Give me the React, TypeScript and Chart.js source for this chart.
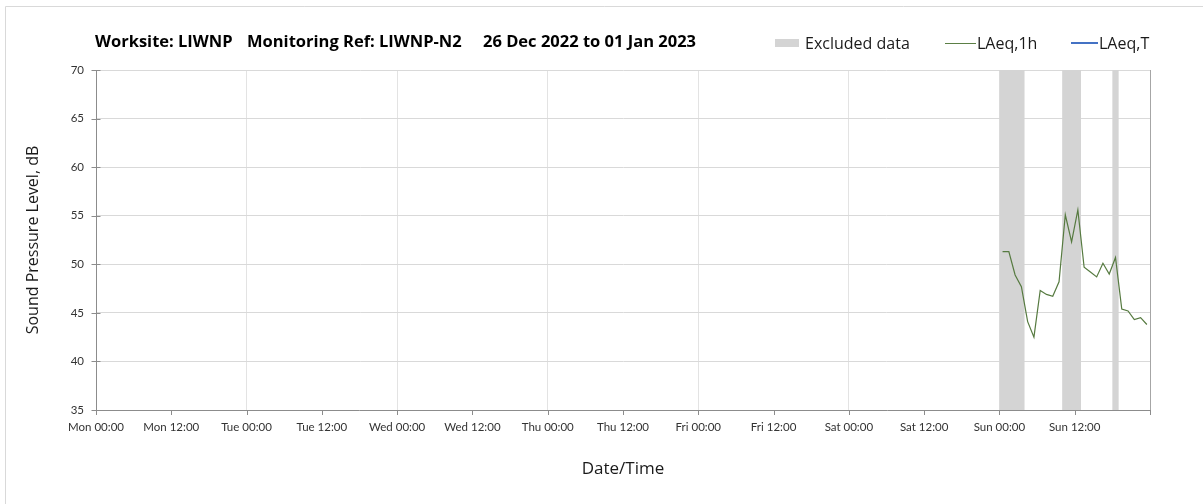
import React, { useEffect, useRef } from "react";
import { Chart, registerables } from "chart.js";

Chart.register(...registerables);

// hours since Mon 26 Dec 2022 00:00
const tickLabels = [
  "Mon 00:00", "Mon 12:00", "Tue 00:00", "Tue 12:00", "Wed 00:00", "Wed 12:00",
  "Thu 00:00", "Thu 12:00", "Fri 00:00", "Fri 12:00", "Sat 00:00", "Sat 12:00",
  "Sun 00:00", "Sun 12:00", "",
];

const laeq1hHours = [
  144.5, 145.5, 146.5, 147.5, 148.5, 149.5, 150.5, 151.5, 152.5, 153.5, 154.5, 155.5,
  156.5, 157.5, 158.5, 159.5, 160.5, 161.5, 162.5, 163.5, 164.5, 165.5, 166.5, 167.5,
];
const laeq1hValues = [
  51.3, 51.3, 48.9, 47.7, 44.1, 42.5, 47.3, 46.9, 46.7, 48.2, 55.1, 52.3,
  55.6, 49.7, 49.2, 48.7, 50.1, 49.0, 50.7, 45.4, 45.2, 44.3, 44.5, 43.8,
];
const laeqTValues: number[] = [];

const excludedStart = [144, 154, 162];
const excludedEnd = [148, 157, 163];

const titleParts = [
  "Worksite: LIWNP",
  "Monitoring Ref: LIWNP-N2",
  "26 Dec 2022 to 01 Jan 2023",
];

const TICK_FONT = "Lato, 'Open Sans', sans-serif";
const FONT = "'Open Sans', Lato, sans-serif";

const decor = {
  id: "decor",
  beforeDatasetsDraw(chart: any) {
    const { ctx, chartArea, scales } = chart;
    const x = scales.x;
    ctx.save();
    ctx.fillStyle = "#d4d4d4";
    for (let i = 0; i < excludedStart.length; i++) {
      const a = x.getPixelForValue(excludedStart[i]);
      const b = x.getPixelForValue(excludedEnd[i]);
      ctx.fillRect(a, chartArea.top, b - a, chartArea.bottom - chartArea.top);
    }
    ctx.restore();
  },
  afterDraw(chart: any) {
    const { ctx, chartArea, scales } = chart;
    const x = scales.x;
    const y = scales.y;
    ctx.save();
    // outer frame
    ctx.strokeStyle = "#d9d9d9";
    ctx.lineWidth = 1;
    ctx.beginPath();
    ctx.moveTo(5.5, 504);
    ctx.lineTo(5.5, 6.5);
    ctx.lineTo(1203, 6.5);
    ctx.stroke();

    // right border of plot
    ctx.strokeStyle = "#a6a6a6";
    ctx.beginPath();
    const rx = Math.round(chartArea.right) + 0.5;
    ctx.moveTo(rx, chartArea.top);
    ctx.lineTo(rx, chartArea.bottom + 5);
    ctx.stroke();

    // y tick marks (crossing)
    ctx.strokeStyle = "#8c8c8c";
    const lx = Math.round(chartArea.left) + 0.5;
    y.ticks.forEach((t: any) => {
      const py = Math.round(y.getPixelForValue(t.value)) + 0.5;
      ctx.beginPath();
      ctx.moveTo(lx - 5, py);
      ctx.lineTo(lx + 4, py);
      ctx.stroke();
    });
    // x tick marks
    x.ticks.forEach((t: any) => {
      const px = Math.round(x.getPixelForValue(t.value)) + 0.5;
      ctx.beginPath();
      ctx.moveTo(px, chartArea.bottom);
      ctx.lineTo(px, chartArea.bottom + 5);
      ctx.stroke();
    });

    // title
    ctx.fillStyle = "#000";
    ctx.font = `bold 16.5px ${FONT}`;
    ctx.textBaseline = "alphabetic";
    ctx.textAlign = "left";
    const tx = [95, 247, 483];
    titleParts.forEach((s, i) => ctx.fillText(s, tx[i], 47));

    // legend
    ctx.font = `16px ${FONT}`;
    ctx.fillStyle = "#d4d4d4";
    ctx.fillRect(775, 39, 24, 8);
    ctx.fillStyle = "#1a1a1a";
    ctx.fillText("Excluded data", 805, 49);
    ctx.strokeStyle = "#5b7f45";
    ctx.lineWidth = 1;
    ctx.beginPath();
    ctx.moveTo(945, 43.5);
    ctx.lineTo(976, 43.5);
    ctx.stroke();
    ctx.fillText("LAeq,1h", 977, 49);
    ctx.strokeStyle = "#4472c4";
    ctx.lineWidth = 2;
    ctx.beginPath();
    ctx.moveTo(1071, 43);
    ctx.lineTo(1098, 43);
    ctx.stroke();
    ctx.fillText("LAeq,T", 1099, 49);
    ctx.restore();
  },
};

export default function App() {
  const ref = useRef<HTMLCanvasElement | null>(null);
  useEffect(() => {
    if (!ref.current) return;
    const chart = new Chart(ref.current, {
      type: "line",
      data: {
        datasets: [
          {
            label: "LAeq,1h",
            data: laeq1hHours.map((h, i) => ({ x: h, y: laeq1hValues[i] })),
            borderColor: "#567a40",
            borderWidth: 1.2,
            pointRadius: 0,
            tension: 0,
          },
          {
            label: "LAeq,T",
            data: laeqTValues.map((v, i) => ({ x: laeq1hHours[i], y: v })),
            borderColor: "#4472c4",
            borderWidth: 2,
            pointRadius: 0,
          },
        ],
      },
      plugins: [decor],
      options: {
        animation: false,
        responsive: false,
        maintainAspectRatio: false,
        layout: { padding: { top: 70, right: 53, left: 0, bottom: 0 } },
        plugins: {
          legend: { display: false },
          title: { display: false },
          tooltip: { enabled: false },
        },
        scales: {
          x: {
            type: "linear",
            min: 0,
            max: 168,
            afterFit: (s: any) => {
              s.height = 94;
            },
            ticks: {
              stepSize: 12,
              autoSkip: false,
              maxRotation: 0,
              padding: 10,
              color: "#333",
              font: { family: TICK_FONT, size: 11.5 },
              callback: (_v: any, i: number) => tickLabels[i] ?? "",
            },
            grid: {
              drawTicks: false,
              color: (c: any) => {
                const v = c.tick?.value;
                if (v === 0 || v === 168) return "rgba(0,0,0,0)";
                return v % 24 === 0 ? "#e3e3e3" : "rgba(0,0,0,0)";
              },
            },
            border: { color: "#8c8c8c", width: 1 },
            title: {
              display: true,
              text: "Date/Time",
              color: "#1a1a1a",
              font: { family: FONT, size: 17 },
              padding: { top: 0, bottom: 25 },
            },
          },
          y: {
            min: 35,
            max: 70,
            afterFit: (s: any) => {
              s.width = 96;
            },
            ticks: {
              stepSize: 5,
              padding: 12,
              color: "#333",
              font: { family: TICK_FONT, size: 11.5 },
            },
            grid: {
              drawTicks: false,
              color: (c: any) => (c.tick?.value === 35 ? "rgba(0,0,0,0)" : "#d9d9d9"),
            },
            border: { color: "#8c8c8c", width: 1 },
            title: {
              display: true,
              text: "Sound Pressure Level, dB",
              color: "#1a1a1a",
              font: { family: FONT, size: 16 },
              padding: { top: 24, bottom: 0 },
            },
          },
        },
      },
    });
    return () => chart.destroy();
  }, []);
  return (
    <div style={{ position: "fixed", left: 0, top: 0, width: 1203, height: 504, background: "#fff" }}>
      <canvas ref={ref} width={1203} height={504} style={{ display: "block" }} />
    </div>
  );
}
